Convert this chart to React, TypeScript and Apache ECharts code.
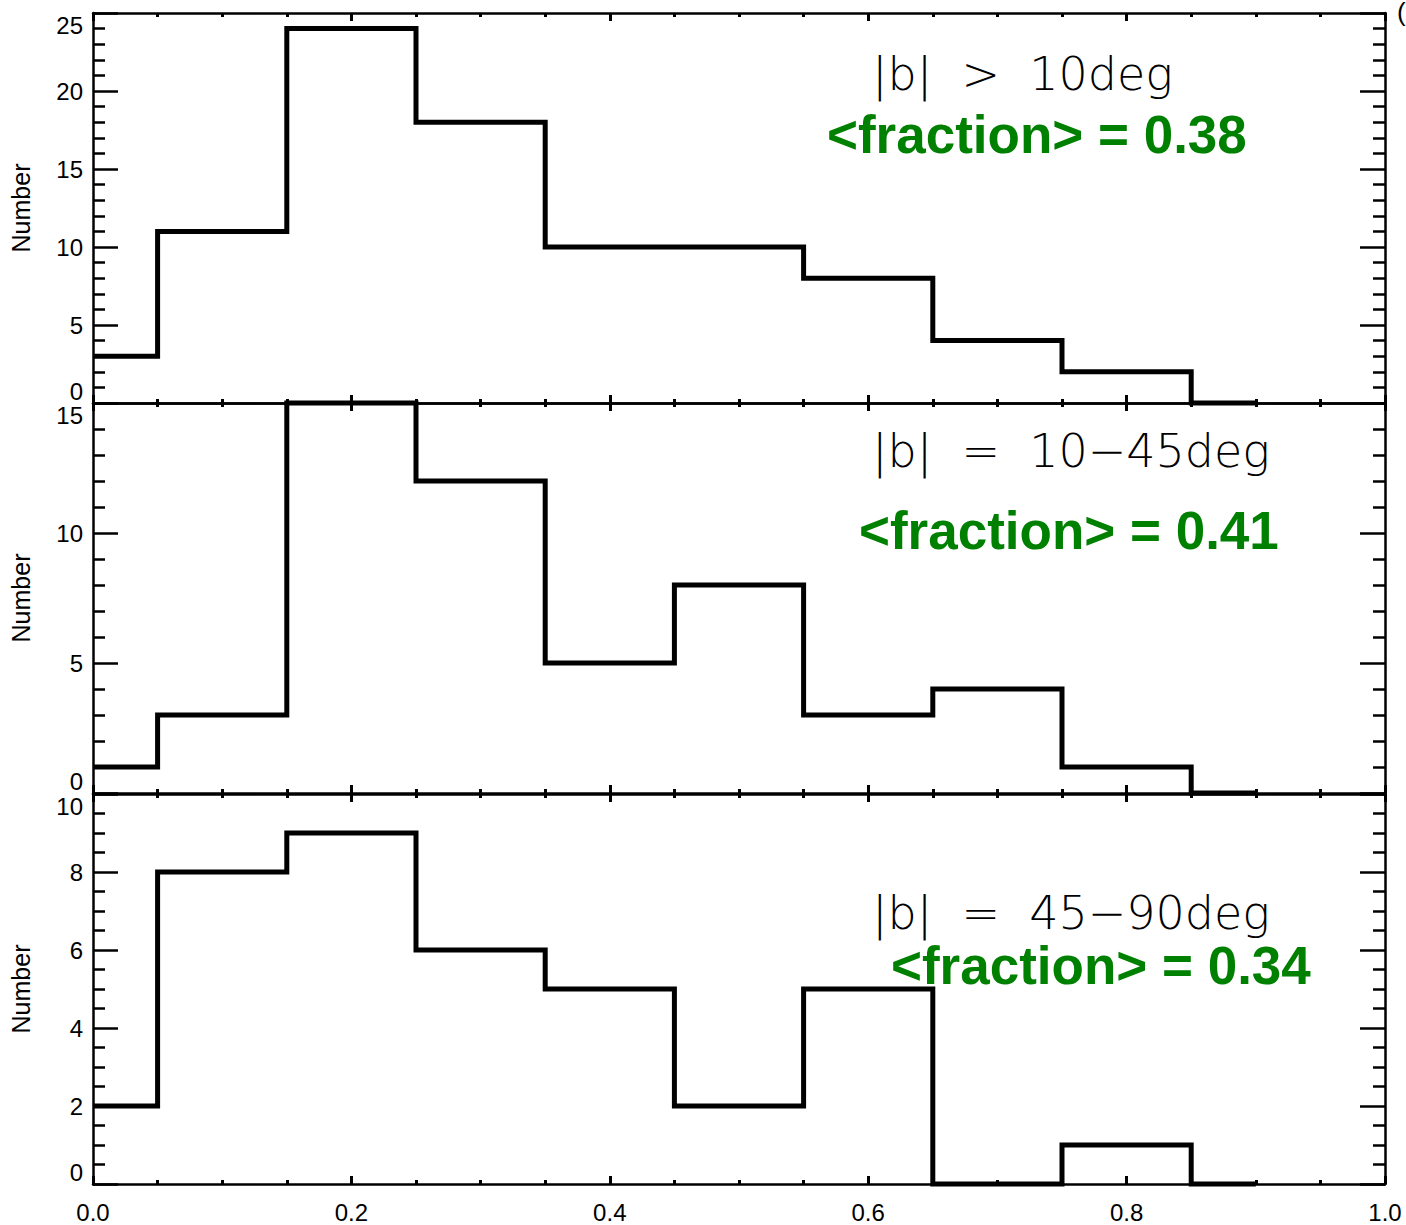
import React, { useEffect, useRef } from "react";
import * as echarts from "echarts";

const binEdges = [0, 0.05, 0.15, 0.25, 0.35, 0.45, 0.55, 0.65, 0.75, 0.85, 0.9];
const countsAbove10 = [3, 11, 24, 18, 10, 10, 8, 4, 2, 0];
const counts10to45 = [1, 3, 15, 12, 5, 8, 3, 4, 1, 0];
const counts45to90 = [2, 8, 9, 6, 5, 2, 5, 0, 1, 0];

const panelLabels = ["|b|  >  10deg", "|b|  =  10\u221245deg", "|b|  =  45\u221290deg"];
const fractionLabels = ["<fraction> = 0.38", "<fraction> = 0.41", "<fraction> = 0.34"];
const yMaxes = [25, 15, 10];
const yIntervals = [5, 5, 2];
const yMinorSplits = [5, 5, 4];
const xTickLabels = ["0.0", "0.2", "0.4", "0.6", "0.8", "1.0"];

const stepData = (counts: number[]) => {
  const d = counts.map((c, i) => [binEdges[i], c]);
  d.push([binEdges[binEdges.length - 1], counts[counts.length - 1]]);
  return d;
};

export default function App() {
  const ref = useRef<HTMLDivElement>(null);
  useEffect(() => {
    document.body.style.margin = "0";
    if (!ref.current) return;
    const chart = echarts.init(ref.current, undefined, { renderer: "svg" });
    const grids = [
      { left: 93, right: 21, top: 13, height: 390 },
      { left: 93, right: 21, top: 403, height: 390 },
      { left: 93, right: 21, top: 794, height: 390 },
    ];
    const allCounts = [countsAbove10, counts10to45, counts45to90];
    const xAxes: any[] = [];
    const yAxes: any[] = [];
    grids.forEach((_, gi) => {
      ["bottom", "top"].forEach((pos) => {
        xAxes.push({
          type: "value",
          gridIndex: gi,
          position: pos,
          min: 0,
          max: 1,
          interval: 0.2,
          axisLine: { show: true, onZero: false, lineStyle: { color: "#000", width: 2.5 } },
          axisTick: { show: true, inside: true, length: 8, lineStyle: { color: "#000", width: 3 } },
          minorTick: { show: true, splitNumber: 4, length: 4, lineStyle: { color: "#000", width: 3 } },
          splitLine: { show: false },
          axisLabel: {
            show: gi === 2 && pos === "bottom",
            margin: 16,
            fontSize: 24,
            fontFamily: "Liberation Sans",
            color: "#000",
            formatter: (v: number) => xTickLabels[Math.round(v / 0.2)] ?? "",
          },
        });
      });
      ["left", "right"].forEach((pos) => {
        yAxes.push({
          type: "value",
          gridIndex: gi,
          position: pos,
          min: 0,
          max: yMaxes[gi],
          interval: yIntervals[gi],
          name: pos === "left" ? "Number" : "",
          nameLocation: "middle",
          nameGap: 60,
          nameTextStyle: { fontSize: 25, fontFamily: "Liberation Sans", color: "#000" },
          axisLine: { show: true, onZero: false, lineStyle: { color: "#000", width: 2.5 } },
          axisTick: { show: true, inside: true, length: 25, lineStyle: { color: "#000", width: 2.5 } },
          minorTick: { show: true, splitNumber: yMinorSplits[gi], length: 12, lineStyle: { color: "#000", width: 2.5 } },
          splitLine: { show: false },
          axisLabel: {
            show: pos === "left",
            margin: 10,
            fontSize: 24,
            fontFamily: "Liberation Sans",
            color: "#000",
            verticalAlignMinLabel: "bottom",
            verticalAlignMaxLabel: "top",
          },
        });
      });
    });
    const series = allCounts.map((counts, gi) => ({
      type: "line",
      xAxisIndex: gi * 2,
      yAxisIndex: gi * 2,
      step: "end",
      symbol: "none",
      clip: false,
      data: stepData(counts),
      lineStyle: { color: "#000", width: 5, join: "miter" },
    }));
    const labelPos = [
      { bx: 872, by: 74, fx: 827, fy: 134 },
      { bx: 872, by: 451, fx: 859, fy: 530 },
      { bx: 872, by: 913, fx: 891, fy: 965 },
    ];
    const graphics: any[] = [];
    labelPos.forEach((p, i) => {
      graphics.push({
        type: "text",
        x: p.bx,
        y: p.by,
        style: {
          text: panelLabels[i],
          font: "200 46px 'DejaVu Sans'",
          fill: "#000",
          align: "left",
          verticalAlign: "middle",
        },
      });
      graphics.push({
        type: "text",
        x: p.fx,
        y: p.fy,
        style: {
          text: fractionLabels[i],
          font: "bold 53px 'Liberation Sans'",
          fill: "#008000",
          align: "left",
          verticalAlign: "middle",
        },
      });
    });
    graphics.push({
      type: "text",
      x: 1397,
      y: 12,
      style: { text: "(", font: "26px 'Liberation Sans'", fill: "#000", align: "left", verticalAlign: "middle" },
    });
    chart.setOption({
      animation: false,
      backgroundColor: "#fff",
      grid: grids,
      xAxis: xAxes,
      yAxis: yAxes,
      series,
      graphic: graphics,
    });
    return () => chart.dispose();
  }, []);
  return <div ref={ref} style={{ width: 1406, height: 1225 }} />;
}
